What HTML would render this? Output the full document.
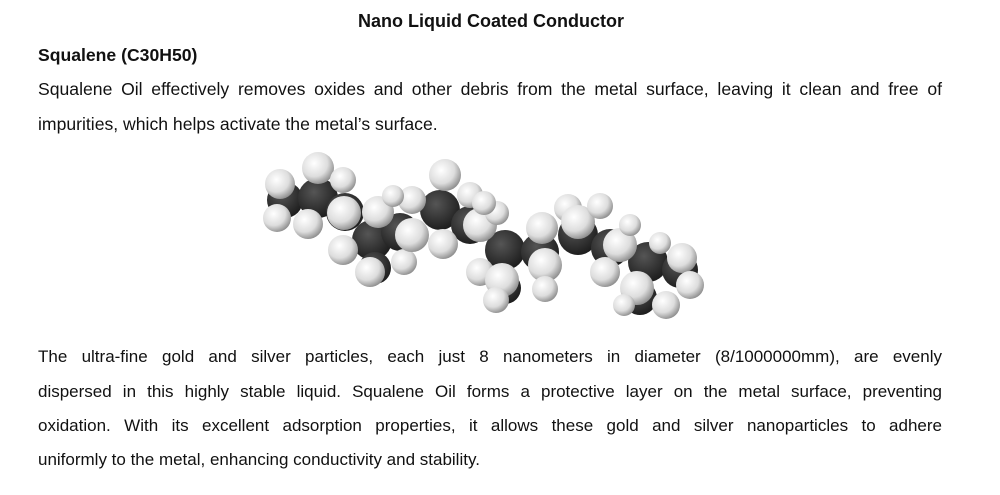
<!DOCTYPE html>
<html><head><meta charset="utf-8"><style>
body{margin:0;width:1000px;height:495px;background:#fff;font-family:"Liberation Sans",sans-serif;color:#111;position:relative;overflow:hidden}
.t{position:absolute;white-space:nowrap;font-size:17.6px}
.b{font-weight:bold}
.j{position:absolute;left:38px;width:904px;font-size:17px;white-space:nowrap;text-align:justify;text-align-last:justify}
</style></head><body>
<div class="t b" style="left:0;width:982px;text-align:center;top:11px;font-size:18px">Nano Liquid Coated Conductor</div>
<div class="t b" style="left:38px;top:45px">Squalene (C30H50)</div>
<div class="j" style="top:79px;font-size:17.6px">Squalene Oil effectively removes oxides and other debris from the metal surface, leaving it clean and free of</div>
<div class="t" style="left:38px;top:114px">impurities, which helps activate the metal’s surface.</div>
<svg style="position:absolute;left:0;top:0" width="1000" height="495">
<defs>
<radialGradient id="h" cx="0.38" cy="0.35" r="0.7"><stop offset="0" stop-color="#fff"/><stop offset="0.6" stop-color="#ddd"/><stop offset="1" stop-color="#888"/></radialGradient>
<radialGradient id="c" cx="0.4" cy="0.35" r="0.7"><stop offset="0" stop-color="#555"/><stop offset="1" stop-color="#1a1a1a"/></radialGradient>
</defs>
<g fill="url(#c)">
<circle cx="285" cy="200" r="18"/><circle cx="318" cy="198" r="20"/><circle cx="345" cy="212" r="19"/><circle cx="372" cy="240" r="20"/><circle cx="400" cy="232" r="19"/><circle cx="440" cy="210" r="20"/><circle cx="470" cy="225" r="19"/><circle cx="505" cy="250" r="20"/><circle cx="540" cy="252" r="19"/><circle cx="578" cy="235" r="20"/><circle cx="610" cy="248" r="19"/><circle cx="648" cy="262" r="20"/><circle cx="680" cy="270" r="18"/><circle cx="640" cy="298" r="17"/><circle cx="505" cy="288" r="16"/><circle cx="375" cy="268" r="16"/>
</g>
<g fill="url(#h)">
<circle cx="280" cy="184" r="15"/><circle cx="277" cy="218" r="14"/><circle cx="318" cy="168" r="16"/><circle cx="343" cy="180" r="13"/><circle cx="308" cy="224" r="15"/><circle cx="344" cy="213" r="17"/><circle cx="343" cy="250" r="15"/><circle cx="378" cy="212" r="16"/><circle cx="370" cy="272" r="15"/><circle cx="404" cy="262" r="13"/><circle cx="412" cy="235" r="17"/><circle cx="412" cy="200" r="14"/><circle cx="445" cy="175" r="16"/><circle cx="470" cy="195" r="13"/><circle cx="443" cy="244" r="15"/><circle cx="480" cy="225" r="17"/><circle cx="480" cy="272" r="14"/><circle cx="497" cy="213" r="12"/><circle cx="502" cy="280" r="17"/><circle cx="496" cy="300" r="13"/><circle cx="542" cy="228" r="16"/><circle cx="545" cy="265" r="17"/><circle cx="545" cy="289" r="13"/><circle cx="568" cy="208" r="14"/><circle cx="578" cy="222" r="17"/><circle cx="600" cy="206" r="13"/><circle cx="605" cy="272" r="15"/><circle cx="620" cy="245" r="17"/><circle cx="630" cy="225" r="11"/><circle cx="637" cy="288" r="17"/><circle cx="666" cy="305" r="14"/><circle cx="682" cy="258" r="15"/><circle cx="690" cy="285" r="14"/><circle cx="624" cy="305" r="11"/><circle cx="660" cy="243" r="11"/><circle cx="393" cy="196" r="11"/><circle cx="484" cy="203" r="12"/></g>
</svg>
<div class="j" style="top:347px">The ultra-fine gold and silver particles, each just 8 nanometers in diameter (8/1000000mm), are evenly</div>
<div class="j" style="top:382px">dispersed in this highly stable liquid. Squalene Oil forms a protective layer on the metal surface, preventing</div>
<div class="j" style="top:416px">oxidation. With its excellent adsorption properties, it allows these gold and silver nanoparticles to adhere</div>
<div class="t" style="left:38px;top:450px;font-size:17px">uniformly to the metal, enhancing conductivity and stability.</div>
</body></html>
